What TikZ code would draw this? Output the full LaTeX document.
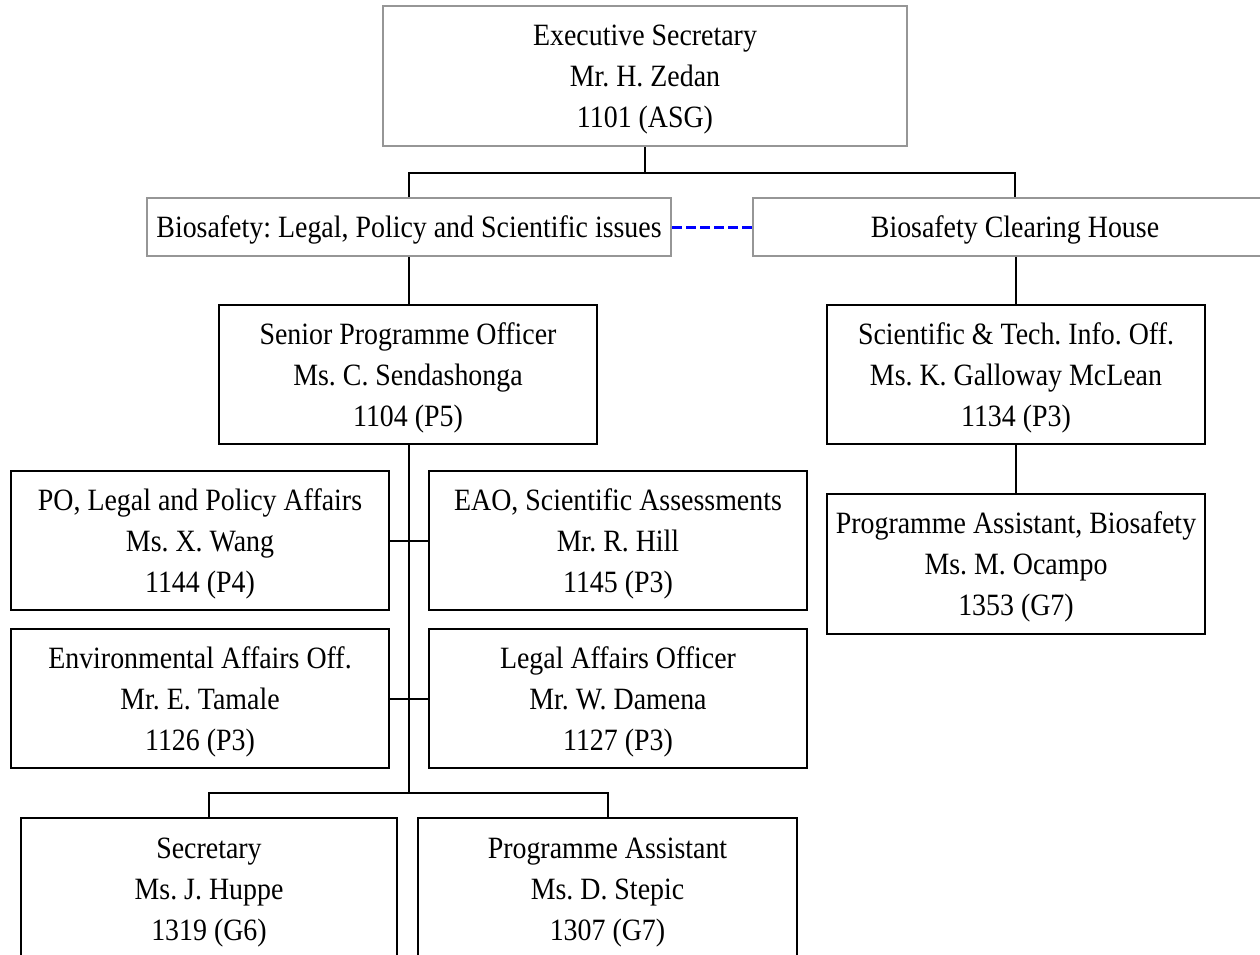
\documentclass[tikz,border=0pt]{standalone}
\usepackage{fontspec}
\setmainfont{Liberation Serif}[FakeStretch=0.9]
\frenchspacing
\definecolor{boxgray}{RGB}{150,150,150}
\tikzset{
  box/.style={draw=black, line width=2pt, rectangle, align=center, inner sep=0pt,
    font=\fontsize{31}{41}\selectfont\frenchspacing, text depth=0pt},
  graybox/.style={box, draw=boxgray},
  conn/.style={draw=black, line width=2pt},
  link/.style={draw=blue, line width=3pt, dash pattern=on 10pt off 4pt}
}
\begin{document}
\begin{tikzpicture}[x=1pt,y=-1pt]
\useasboundingbox (0,0) rectangle (1260,955);
\clip (0,0) rectangle (1260,955);
\fill[white] (0,0) rectangle (1260,955);
\node[graybox, minimum width=524pt, minimum height=140pt] (es) at (645,76)
  {Executive Secretary\\Mr. H. Zedan\\1101 (ASG)};
\node[graybox, minimum width=524pt, minimum height=58pt] (bl) at (409,227)
  {Biosafety: Legal, Policy and Scientific issues};
\node[graybox, minimum width=524pt, minimum height=58pt] (bc) at (1015,227)
  {Biosafety Clearing House};
\node[box, minimum width=378pt, minimum height=139pt] (spo) at (408,374.5)
  {Senior Programme Officer\\Ms. C. Sendashonga\\1104 (P5)};
\node[box, minimum width=378pt, minimum height=139pt] (po) at (200,540.5)
  {PO, Legal and Policy Affairs\\Ms. X. Wang\\1144 (P4)};
\node[box, minimum width=378pt, minimum height=139pt] (eao) at (618,540.5)
  {EAO, Scientific Assessments\\Mr. R. Hill\\1145 (P3)};
\node[box, minimum width=378pt, minimum height=139pt] (env) at (200,698.5)
  {Environmental Affairs Off.\\Mr. E. Tamale\\1126 (P3)};
\node[box, minimum width=378pt, minimum height=139pt] (leg) at (618,698.5)
  {Legal Affairs Officer\\Mr. W. Damena\\1127 (P3)};
\node[box, minimum width=376pt, minimum height=142pt] (sec) at (209,889)
  {Secretary\\Ms. J. Huppe\\1319 (G6)};
\node[box, minimum width=379pt, minimum height=142pt] (pa) at (607.5,889)
  {Programme Assistant\\Ms. D. Stepic\\1307 (G7)};
\node[box, minimum width=378pt, minimum height=139pt] (sci) at (1016,374.5)
  {Scientific \& Tech. Info. Off.\\Ms. K. Galloway McLean\\1134 (P3)};
\node[box, minimum width=378pt, minimum height=140pt] (pab) at (1016,564)
  {Programme Assistant, Biosafety\\Ms. M. Ocampo\\1353 (G7)};
\coordinate (j1) at (645,173);
\coordinate (j2) at (409,793);
\draw[conn] (es.south) -- (j1);
\draw[conn] (bl.north) |- (j1) -| (bc.north);
\draw[link] (bl.east) -- (bc.west);
\draw[conn] (bl.south) -- (bl.south |- spo.north);
\draw[conn] (spo.south -| j2) -- (j2);
\draw[conn] (sec.north) |- (j2) -| (pa.north);
\draw[conn] (po.east) -- (eao.west);
\draw[conn] (env.east) -- (leg.west);
\draw[conn] (bc.south -| sci.north) -- (sci.north);
\draw[conn] (sci.south) -- (pab.north);
\end{tikzpicture}
\end{document}
